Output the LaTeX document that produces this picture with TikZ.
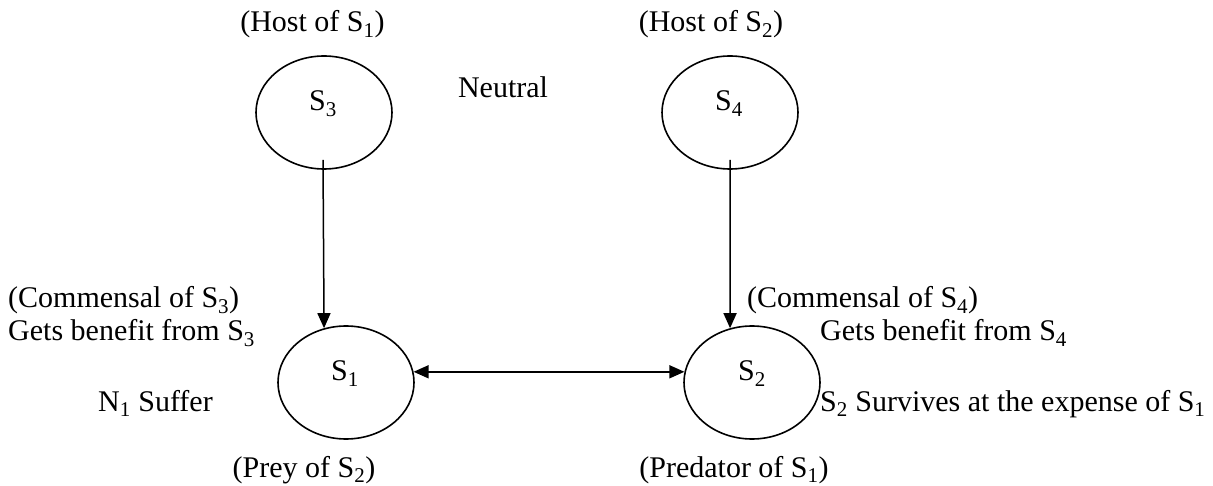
\documentclass[tikz,border=0pt]{standalone}
\usepackage{fontspec}
\setmainfont{Liberation Serif}
\usetikzlibrary{shapes.geometric,arrows.meta}
\newcommand{\sub}[1]{\textsubscript{#1}}
\begin{document}
\begin{tikzpicture}[x=1pt,y=-1pt,
  every node/.style={font=\fontsize{30}{36}\selectfont, inner sep=0pt},
  ell/.style={draw, ellipse, line width=1.6pt, minimum width=136pt, minimum height=113pt},
  arr/.style={line width=1.5pt, -{Triangle[length=15pt,width=13pt]}},
  darr/.style={line width=1.5pt, {Triangle[length=15pt,width=13pt]}-{Triangle[length=15pt,width=13pt]}},
  txt/.style={anchor=base west},
  ctxt/.style={anchor=base}]
\useasboundingbox (0,0) rectangle (1213,486);
% ellipses
\node[ell] (s3) at (324,112.5) {};
\node[ell] (s4) at (730,112.5) {};
\node[ell] (s1) at (346,382.5) {};
\node[ell] (s2) at (752,382.5) {};
% labels inside
\node[ctxt] (l3) at (323,111) {S\sub{3}};
\node[ctxt] (l4) at (729,111) {S\sub{4}};
\node[ctxt] (l1) at (345,381) {S\sub{1}};
\node[ctxt] (l2) at (752,381) {S\sub{2}};
% texts
\node[ctxt] (h1) at (312.5,32) {(Host of S\sub{1})};
\node[ctxt] (h2) at (711,32) {(Host of S\sub{2})};
\node[ctxt] (neu) at (503,98) {Neutral};
\node[txt] (c3) at (8,308) {(Commensal of S\sub{3})};
\node[txt] (g3) at (8,341) {Gets benefit from S\sub{3}};
\node[txt] (n1) at (98,411) {N\sub{1} Suffer};
\node[ctxt] (prey) at (304,477) {(Prey of S\sub{2})};
\node[txt] (c4) at (747,308) {(Commensal of S\sub{4})};
\node[txt] (g4) at (820,341) {Gets benefit from S\sub{4}};
\node[txt] (surv) at (820,411) {S\sub{2} Survives at the expense of S\sub{1}};
\node[ctxt] (pred) at (734,477) {(Predator of S\sub{1})};
% connectors
\draw[arr] ([xshift=-1pt,yshift=10pt]s3.south) -- (s1.112);
\draw[arr] ([yshift=10pt]s4.south) -- (s2.112);
\draw[darr] (s1.9) -- (s2.171);
\end{tikzpicture}
\end{document}
